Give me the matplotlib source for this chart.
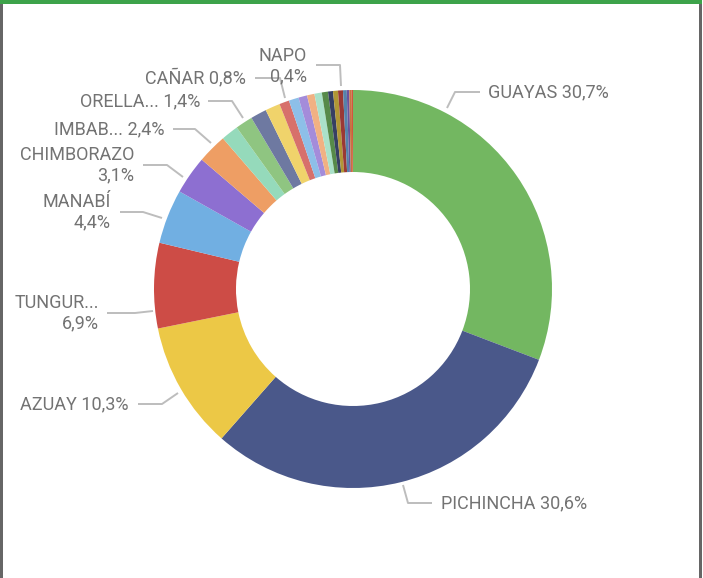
import matplotlib
matplotlib.use("Agg")
import matplotlib.pyplot as plt
from matplotlib.patches import Rectangle

# share of total by province (%), sorted as drawn (clockwise from 12 o'clock)
PROVINCES = [
    "GUAYAS", "PICHINCHA", "AZUAY", "TUNGURAHUA", "MANABÍ", "CHIMBORAZO",
    "IMBABURA", "ORELLANA", "LOJA", "EL ORO", "SANTO DOMINGO", "CAÑAR",
    "LOS RÍOS", "COTOPAXI", "ESMERALDAS", "SUCUMBÍOS", "SANTA ELENA",
    "PASTAZA", "MORONA SANTIAGO", "NAPO", "CARCHI", "BOLÍVAR",
    "ZAMORA CHINCHIPE", "GALÁPAGOS",
]
SHARES = [
    30.7, 30.6, 10.3, 6.9, 4.4, 3.1,
    2.4, 1.4, 1.4, 1.3, 1.2, 0.8,
    0.8, 0.7, 0.6, 0.6, 0.5,
    0.4, 0.4, 0.4, 0.3, 0.2,
    0.2, 0.1,
]
COLORS = [
    "#73B761", "#4A588A", "#ECC846", "#CD4C46", "#71AFE2", "#8D6FD1",
    "#EE9E64", "#95DABB", "#8FC581", "#6E79A1", "#F0D36B", "#D7706B",
    "#8DBFE8", "#A48CDA", "#F1B183", "#AAE1C9", "#568A49",
    "#363F63", "#B19735", "#9A3935", "#5583AA", "#6A539D",
    "#C7743F", "#D4543F",
]

# labels shown on the chart
LABEL_TEXT = {
    "GUAYAS": "GUAYAS 30,7%",
    "PICHINCHA": "PICHINCHA 30,6%",
    "AZUAY": "AZUAY 10,3%",
    "TUNGURAHUA": "TUNGUR...\n6,9%",
    "MANABÍ": "MANABÍ\n4,4%",
    "CHIMBORAZO": "CHIMBORAZO\n3,1%",
    "IMBABURA": "IMBAB... 2,4%",
    "ORELLANA": "ORELLA... 1,4%",
    "CAÑAR": "CAÑAR 0,8%",
    "NAPO": "NAPO\n0,4%",
}

W, H = 703, 578
CX, CY, R_OUT, R_IN = 353, 289, 199, 117

# label layout in screen pixels (from top-left): text anchor, alignment, leader polyline
LAYOUT = {
    "GUAYAS": ((488, 92), "left", [(480, 92), (455, 92), (447, 108)]),
    "PICHINCHA": ((441, 503), "left", [(432, 503), (408, 503), (403, 485)]),
    "AZUAY": ((129, 404), "right", [(138, 404), (162, 404), (178, 393)]),
    "TUNGURAHUA": ((99, 313), "right", [(107, 313), (135, 313), (153, 311)]),
    "MANABÍ": ((111, 212), "right", [(120, 212), (143, 212), (162, 218)]),
    "CHIMBORAZO": ((134, 165), "right", [(143, 165), (167, 165), (183, 177)]),
    "IMBABURA": ((164, 129), "right", [(173, 129), (195, 129), (211, 143)]),
    "ORELLANA": ((200, 101), "right", [(208, 101), (232, 101), (243, 118)]),
    "CAÑAR": ((246, 78), "right", [(255, 78), (280, 78), (285, 98)]),
    "NAPO": ((307, 66), "right", [(316, 65), (340, 65), (341, 86)]),
}

plt.rcParams["font.family"] = ["Roboto", "DejaVu Sans"]

fig = plt.figure(figsize=(W / 100, H / 100), dpi=100)
ax = fig.add_axes([0, 0, 1, 1])

ax.pie(
    SHARES,
    colors=COLORS,
    startangle=90,
    counterclock=False,
    center=(CX, H - CY),
    radius=R_OUT,
    wedgeprops=dict(width=R_OUT - R_IN, linewidth=0),
    frame=True,
)

for name, text in LABEL_TEXT.items():
    (tx, ty), ha, leader = LAYOUT[name]
    xs = [p[0] for p in leader]
    ys = [H - p[1] for p in leader]
    ax.plot(xs, ys, color="#BDBDBD", lw=1.4, solid_capstyle="butt")
    ax.text(tx, H - ty, text, ha=ha, va="center", ma=ha,
            fontsize=13, color="#737373", linespacing=1.2)

# card frame: grey sides and green accent on top
ax.add_patch(Rectangle((0, 0), 2.5, H, color="#666666", lw=0))
ax.add_patch(Rectangle((699, 0), 2.5, H - 4, color="#666666", lw=0))
ax.add_patch(Rectangle((0, H - 3.5), 702, 3.5, color="#3DA34A", lw=0))

ax.set_xlim(0, W)
ax.set_ylim(0, H)
ax.axis("off")

fig.savefig("out.png", dpi=100)
